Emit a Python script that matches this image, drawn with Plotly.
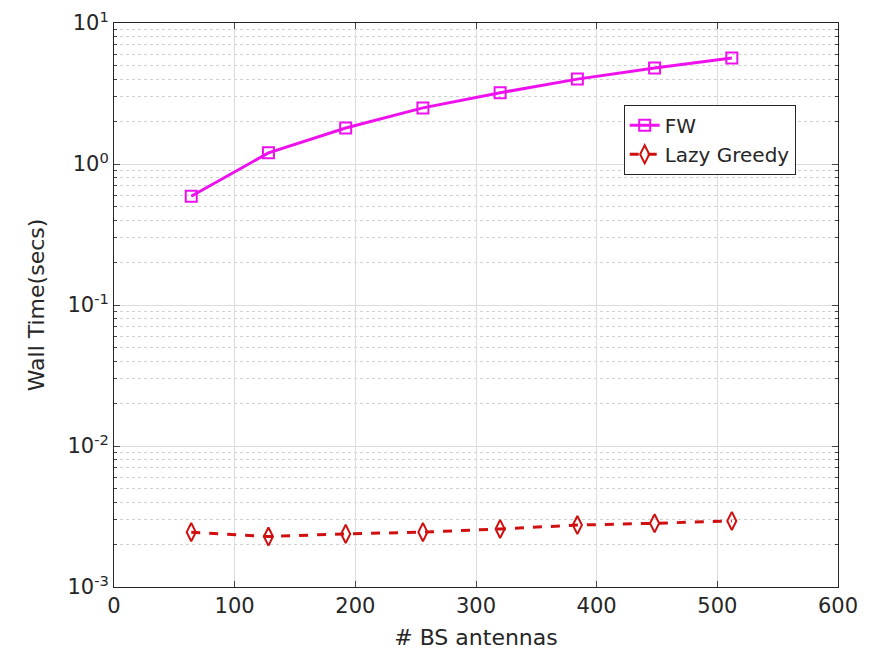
import plotly.graph_objects as go

antennas = [64, 128, 192, 256, 320, 384, 448, 512]
fw_time = [0.59, 1.2, 1.8, 2.5, 3.2, 4.0, 4.8, 5.65]
lazy_time = [0.00245, 0.00228, 0.00238, 0.00245, 0.00258, 0.00275, 0.00283, 0.00294]

ytick_vals = [1e-3, 1e-2, 1e-1, 1, 10]
ytick_text = ["10<sup>-3</sup>", "10<sup>-2</sup>", "10<sup>-1</sup>", "10<sup>0</sup>", "10<sup>1</sup>"]
xtick_vals = [0, 100, 200, 300, 400, 500, 600]

minor_vals = [m * 10.0 ** e for e in range(-3, 1) for m in range(2, 10)]

fig = go.Figure()
fig.add_trace(go.Scatter(
    x=antennas, y=fw_time, name="FW", mode="lines+markers",
    line=dict(color="#ee11ee", width=3),
    marker=dict(symbol="square-open", size=11, color="#ee11ee", line=dict(width=2)),
))
fig.add_trace(go.Scatter(
    x=antennas, y=lazy_time, name="Lazy Greedy", mode="lines+markers",
    line=dict(color="#d01010", width=3, dash="dash"),
    marker=dict(symbol="diamond-tall-open", size=13, color="#d01010", line=dict(width=2)),
))

fig.update_layout(
    width=875, height=655,
    margin=dict(l=106, r=45, t=15, b=76),
    paper_bgcolor="white", plot_bgcolor="white",
    font=dict(family="DejaVu Sans", size=20, color="#262626"),
    showlegend=True,
    legend=dict(x=0.704, y=0.855, xanchor="left", yanchor="top",
                bordercolor="#262626", borderwidth=1, bgcolor="white",
                font=dict(size=20), tracegroupgap=0),
    xaxis=dict(
        range=[0, 600], tickvals=xtick_vals, ticks="inside", ticklen=6,
        showline=True, linecolor="#262626", linewidth=1, mirror="ticks",
        showgrid=True, gridcolor="#dcdcdc", gridwidth=1, zeroline=False,
        title=dict(text="# BS antennas", font=dict(size=22), standoff=12),
        tickfont=dict(size=21), ticklabeloverflow="allow", automargin=False,
    ),
    yaxis=dict(
        type="log", range=[-3, 1], tickvals=ytick_vals, ticktext=ytick_text,
        ticks="inside", ticklen=6,
        showline=True, linecolor="#262626", linewidth=1, mirror="ticks",
        showgrid=True, gridcolor="#dcdcdc", gridwidth=1, zeroline=False,
        minor=dict(tickvals=minor_vals, ticks="inside", ticklen=3,
                   showgrid=True, gridcolor="#d0d0d0", griddash="dot", gridwidth=1),
        title=dict(text="Wall Time(secs)", font=dict(size=22), standoff=16),
        tickfont=dict(size=21), ticklabeloverflow="allow", automargin=False,
    ),
)

fig.write_html("out.html")
